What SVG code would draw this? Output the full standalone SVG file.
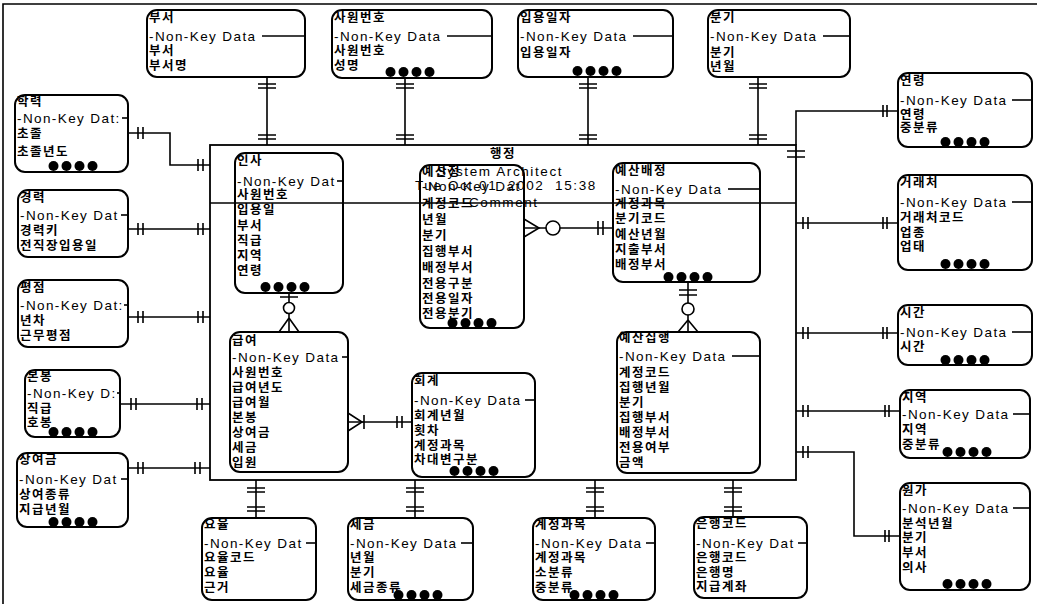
<svg xmlns="http://www.w3.org/2000/svg" width="1037" height="604" viewBox="0 0 1037 604">
<style>
.k{font-family:"Noto Sans CJK KR","Noto Sans",sans-serif;font-size:12.5px;font-weight:bold;letter-spacing:1.5px;fill:#000}
.n{font-family:"Liberation Sans",Arial,sans-serif;font-size:13.5px;letter-spacing:1.4px;fill:#000}
.a{font-family:"Liberation Sans",Arial,sans-serif;font-size:13.5px;letter-spacing:1.6px;fill:#000}
.box{fill:#fff;stroke:#000;stroke-width:2}
.c{fill:none;stroke:#000;stroke-width:1.6}
.t{fill:none;stroke:#000;stroke-width:1.6}
.o{fill:#fff;stroke:#000;stroke-width:1.6}
</style>
<defs>
<g id="dots"><circle cx="-19.5" cy="0" r="5"/><circle cx="-6.5" cy="0" r="5"/><circle cx="6.5" cy="0" r="5"/><circle cx="19.5" cy="0" r="5"/></g>
</defs>
<rect width="1037" height="604" fill="#fff"/>
<path class="c" d="M3,604 V4 H1037"/>
<g id="area">
<rect x="210" y="145" width="586" height="335" fill="none" stroke="#000" stroke-width="1.8"/>
<text class="k" x="503" y="158" text-anchor="middle">행정</text>
</g>
<g id="connectors">
<path class="c" d="M267,77 V145 M405,78 V145 M588,77 V145 M758,77 V145"/>
<path class="t" d="M258,84 H276 M258,88 H276 M258,135 H276 M258,139 H276"/>
<path class="t" d="M396,84 H414 M396,88 H414 M396,135 H414 M396,139 H414"/>
<path class="t" d="M579,84 H597 M579,88 H597 M579,135 H597 M579,139 H597"/>
<path class="t" d="M749,84 H767 M749,88 H767 M749,135 H767 M749,139 H767"/>
<path class="c" d="M128,133 H170 V165 H210"/>
<path class="t" d="M138,127 V139 M143,127 V139 M198,159 V171 M203,159 V171"/>
<path class="c" d="M128,229 H210"/>
<path class="t" d="M138,223 V235 M143,223 V235 M198,223 V235 M203,223 V235"/>
<path class="c" d="M128,317 H210"/>
<path class="t" d="M138,311 V323 M143,311 V323 M198,311 V323 M203,311 V323"/>
<path class="c" d="M120,404 H210"/>
<path class="t" d="M131,398 V410 M136,398 V410 M197,398 V410 M202,398 V410"/>
<path class="c" d="M128,468 H210"/>
<path class="t" d="M138,462 V474 M143,462 V474 M195,462 V474 M200,462 V474"/>
<path class="c" d="M796,145 V111 H898"/>
<path class="t" d="M883,105 V117 M887,105 V117 M787,151 H805 M787,157 H805"/>
<path class="c" d="M796,223 H898"/>
<path class="t" d="M803,217 V229 M808,217 V229 M883,217 V229 M887,217 V229"/>
<path class="c" d="M796,333 H898"/>
<path class="t" d="M803,327 V339 M808,327 V339 M883,327 V339 M887,327 V339"/>
<path class="c" d="M796,411 H900"/>
<path class="t" d="M803,405 V417 M808,405 V417 M885,405 V417 M889,405 V417"/>
<path class="c" d="M796,452 H854 V536 H900"/>
<path class="t" d="M803,446 V458 M808,446 V458 M885,530 V542 M889,530 V542"/>
<path class="c" d="M256,480 V518 M415,480 V518 M595,480 V518 M733,480 V517"/>
<path class="t" d="M247,488 H265 M247,492 H265 M247,507 H265 M247,511 H265"/>
<path class="t" d="M406,488 H424 M406,492 H424 M406,507 H424 M406,511 H424"/>
<path class="t" d="M586,488 H604 M586,492 H604 M586,507 H604 M586,511 H604"/>
<path class="t" d="M724,488 H742 M724,492 H742 M724,507 H742 M724,511 H742"/>
<path class="c" d="M289,293 V332"/>
<path class="t" d="M280,297 H298 M289,318 L279,332 M289,318 L299,332"/>
<circle class="o" cx="289" cy="308" r="5.5"/>
<path class="c" d="M524,228 H613"/>
<path class="t" d="M524,219 L539,228 L524,237 M598,221 V235 M603,221 V235"/>
<circle class="o" cx="553" cy="228" r="7"/>
<path class="c" d="M688,282 V332"/>
<path class="t" d="M679,290 H697 M679,295 H697 M688,320 L678,332 M688,320 L698,332"/>
<circle class="o" cx="688" cy="309" r="6"/>
<path class="c" d="M348,422 H412"/>
<path class="t" d="M348,413 L362,422 L348,431 M364,415 V429 M397,416 V428 M402,416 V428"/>
</g>
<g id="n-buseo">
<rect class="box" x="147" y="10" width="158" height="67" rx="10"/>
<text class="k" x="149" y="22">부서</text>
<text class="n" x="149" y="41">-Non-Key Data</text>
<line class="c" x1="262" y1="36" x2="305" y2="36"/>
<text class="k" x="149" y="55">부서</text>
<text class="k" x="149" y="70">부서명</text>
</g>
<g id="n-sawon">
<rect class="box" x="332" y="10" width="160" height="68" rx="10"/>
<text class="k" x="334" y="22">사원번호</text>
<text class="n" x="334" y="41">-Non-Key Data</text>
<line class="c" x1="447" y1="36" x2="492" y2="36"/>
<text class="k" x="334" y="55">사원번호</text>
<text class="k" x="334" y="70">성명</text>
<use href="#dots" x="410" y="72"/>
</g>
<g id="n-ipyong">
<rect class="box" x="518" y="10" width="155" height="67" rx="10"/>
<text class="k" x="520" y="22">입용일자</text>
<text class="n" x="520" y="41">-Non-Key Data</text>
<line class="c" x1="633" y1="36" x2="673" y2="36"/>
<text class="k" x="520" y="57">입용일자</text>
<use href="#dots" x="597" y="71"/>
</g>
<g id="n-bungi">
<rect class="box" x="708" y="10" width="142" height="67" rx="10"/>
<text class="k" x="710" y="22">분기</text>
<text class="n" x="710" y="41">-Non-Key Data</text>
<line class="c" x1="823" y1="36" x2="850" y2="36"/>
<text class="k" x="710" y="57">분기</text>
<text class="k" x="710" y="71">년월</text>
</g>
<g id="n-yeonryeong">
<rect class="box" x="898" y="73" width="134" height="74" rx="10"/>
<text class="k" x="900" y="85">연령</text>
<text class="n" x="900" y="105">-Non-Key Data</text>
<line class="c" x1="1012" y1="100" x2="1032" y2="100"/>
<text class="k" x="900" y="119">연령</text>
<text class="k" x="900" y="132">중분류</text>
<use href="#dots" x="965" y="142"/>
</g>
<g id="n-georae">
<rect class="box" x="898" y="175" width="134" height="95" rx="10"/>
<text class="k" x="900" y="187">거래처</text>
<text class="n" x="900" y="207">-Non-Key Data</text>
<line class="c" x1="1012" y1="202" x2="1032" y2="202"/>
<text class="k" x="900" y="222">거래처코드</text>
<text class="k" x="900" y="237">업종</text>
<text class="k" x="900" y="251">업태</text>
<use href="#dots" x="965" y="264"/>
</g>
<g id="n-sigan">
<rect class="box" x="898" y="305" width="134" height="60" rx="10"/>
<text class="k" x="900" y="317">시간</text>
<text class="n" x="900" y="337">-Non-Key Data</text>
<line class="c" x1="1012" y1="332" x2="1032" y2="332"/>
<text class="k" x="900" y="351">시간</text>
<use href="#dots" x="965" y="360"/>
</g>
<g id="n-jiyeok">
<rect class="box" x="900" y="390" width="130" height="68" rx="10"/>
<text class="k" x="902" y="402">지역</text>
<text class="n" x="902" y="419">-Non-Key Data</text>
<line class="c" x1="1013" y1="414" x2="1030" y2="414"/>
<text class="k" x="902" y="434">지역</text>
<text class="k" x="902" y="449">중분류</text>
<use href="#dots" x="967" y="452"/>
</g>
<g id="n-wonga">
<rect class="box" x="900" y="483" width="130" height="107" rx="10"/>
<text class="k" x="902" y="495">원가</text>
<text class="n" x="902" y="513">-Non-Key Data</text>
<line class="c" x1="1013" y1="508" x2="1030" y2="508"/>
<text class="k" x="902" y="528">분석년월</text>
<text class="k" x="902" y="542">분기</text>
<text class="k" x="902" y="557">부서</text>
<text class="k" x="902" y="572">의사</text>
<use href="#dots" x="967" y="584"/>
</g>
<g id="n-hakryeok">
<rect class="box" x="15" y="95" width="113" height="77" rx="10"/>
<text class="k" x="17" y="106">학력</text>
<text class="n" x="17" y="123">-Non-Key Dat:</text>
<line class="c" x1="122" y1="118" x2="128" y2="118"/>
<text class="k" x="17" y="138">초졸</text>
<text class="k" x="17" y="156">초졸년도</text>
<use href="#dots" x="73" y="166"/>
</g>
<g id="n-gyeongryeok">
<rect class="box" x="18" y="190" width="110" height="67" rx="10"/>
<text class="k" x="20" y="202">경력</text>
<text class="n" x="20" y="220">-Non-Key Dat</text>
<line class="c" x1="121" y1="215" x2="128" y2="215"/>
<text class="k" x="20" y="235">경력키</text>
<text class="k" x="20" y="250">전직장입용일</text>
</g>
<g id="n-pyeongjeom">
<rect class="box" x="18" y="280" width="110" height="67" rx="10"/>
<text class="k" x="20" y="292">평점</text>
<text class="n" x="20" y="310">-Non-Key Dat:</text>
<line class="c" x1="124" y1="305" x2="128" y2="305"/>
<text class="k" x="20" y="325">년차</text>
<text class="k" x="20" y="340">근무평점</text>
</g>
<g id="n-bonbong">
<rect class="box" x="25" y="370" width="95" height="67" rx="10"/>
<text class="k" x="27" y="381">본봉</text>
<text class="n" x="27" y="398">-Non-Key D:</text>
<line class="c" x1="117" y1="393" x2="120" y2="393"/>
<text class="k" x="27" y="413">직급</text>
<text class="k" x="27" y="427">호봉</text>
<use href="#dots" x="73" y="432"/>
</g>
<g id="n-sangyeo">
<rect class="box" x="17" y="453" width="111" height="74" rx="10"/>
<text class="k" x="19" y="464">상여금</text>
<text class="n" x="19" y="484">-Non-Key Dat</text>
<line class="c" x1="121" y1="479" x2="128" y2="479"/>
<text class="k" x="19" y="499">상여종류</text>
<text class="k" x="19" y="514">지급년월</text>
<use href="#dots" x="73" y="522"/>
</g>
<g id="n-insa">
<rect class="box" x="235" y="153" width="108" height="140" rx="10"/>
<text class="k" x="237" y="165">인사</text>
<text class="n" x="237" y="186">-Non-Key Dat</text>
<line class="c" x1="337" y1="181" x2="343" y2="181"/>
<text class="k" x="237" y="199">사원번호</text>
<text class="k" x="237" y="214">입용일</text>
<text class="k" x="237" y="230">부서</text>
<text class="k" x="237" y="245">직급</text>
<text class="k" x="237" y="260">지역</text>
<text class="k" x="237" y="275">연령</text>
<use href="#dots" x="285" y="287"/>
</g>
<g id="n-yesanjeong">
<rect class="box" x="420" y="165" width="104" height="163" rx="10"/>
<text class="k" x="422" y="176">예산정</text>
<text class="n" x="422" y="191">-Non-Key Dat</text>
<text class="k" x="422" y="208">계정코드</text>
<text class="k" x="422" y="224">년월</text>
<text class="k" x="422" y="240">분기</text>
<text class="k" x="422" y="256">집행부서</text>
<text class="k" x="422" y="272">배정부서</text>
<text class="k" x="422" y="288">전용구분</text>
<text class="k" x="422" y="303">전용일자</text>
<text class="k" x="422" y="318">전용분기</text>
<use href="#dots" x="472" y="323"/>
</g>
<g id="n-yesanbaejeong">
<rect class="box" x="613" y="163" width="147" height="119" rx="10"/>
<text class="k" x="615" y="175">예산배정</text>
<text class="n" x="615" y="194">-Non-Key Data</text>
<line class="c" x1="728" y1="189" x2="760" y2="189"/>
<text class="k" x="615" y="208">계정과목</text>
<text class="k" x="615" y="223">분기코드</text>
<text class="k" x="615" y="239">예산년월</text>
<text class="k" x="615" y="254">지출부서</text>
<text class="k" x="615" y="269">배정부서</text>
<use href="#dots" x="688" y="277"/>
</g>
<g id="n-geupyeo">
<rect class="box" x="230" y="332" width="118" height="140" rx="10"/>
<text class="k" x="232" y="345">급여</text>
<text class="n" x="232" y="362">-Non-Key Data</text>
<line class="c" x1="342" y1="357" x2="348" y2="357"/>
<text class="k" x="232" y="377">사원번호</text>
<text class="k" x="232" y="392">급여년도</text>
<text class="k" x="232" y="407">급여월</text>
<text class="k" x="232" y="422">본봉</text>
<text class="k" x="232" y="437">상여금</text>
<text class="k" x="232" y="452">세금</text>
<text class="k" x="232" y="467">입원</text>
</g>
<g id="n-hoegye">
<rect class="box" x="412" y="373" width="123" height="104" rx="10"/>
<text class="k" x="414" y="385">회계</text>
<text class="n" x="414" y="405">-Non-Key Data</text>
<line class="c" x1="525" y1="400" x2="535" y2="400"/>
<text class="k" x="414" y="420">회계년월</text>
<text class="k" x="414" y="435">횟차</text>
<text class="k" x="414" y="450">계정과목</text>
<text class="k" x="414" y="464">차대변구분</text>
<use href="#dots" x="474" y="471"/>
</g>
<g id="n-yesanjiphaeng">
<rect class="box" x="617" y="332" width="143" height="141" rx="10"/>
<text class="k" x="619" y="342">예산집행</text>
<text class="n" x="619" y="361">-Non-Key Data</text>
<line class="c" x1="732" y1="356" x2="760" y2="356"/>
<text class="k" x="619" y="377">계정코드</text>
<text class="k" x="619" y="392">집행년월</text>
<text class="k" x="619" y="407">분기</text>
<text class="k" x="619" y="422">집행부서</text>
<text class="k" x="619" y="437">배정부서</text>
<text class="k" x="619" y="452">전용여부</text>
<text class="k" x="619" y="467">금액</text>
</g>
<g id="n-yoyul">
<rect class="box" x="202" y="518" width="114" height="82" rx="10"/>
<text class="k" x="204" y="529">요율</text>
<text class="n" x="204" y="548">-Non-Key Dat</text>
<line class="c" x1="306" y1="543" x2="316" y2="543"/>
<text class="k" x="204" y="562">요율코드</text>
<text class="k" x="204" y="577">요율</text>
<text class="k" x="204" y="592">근거</text>
</g>
<g id="n-segeum">
<rect class="box" x="348" y="518" width="125" height="82" rx="10"/>
<text class="k" x="350" y="529">세금</text>
<text class="n" x="350" y="548">-Non-Key Data</text>
<line class="c" x1="461" y1="543" x2="473" y2="543"/>
<text class="k" x="350" y="562">년월</text>
<text class="k" x="350" y="577">분기</text>
<text class="k" x="350" y="592">세금종류</text>
<use href="#dots" x="418" y="595"/>
</g>
<g id="n-gyejeong">
<rect class="box" x="533" y="518" width="122" height="82" rx="10"/>
<text class="k" x="535" y="529">계정과목</text>
<text class="n" x="535" y="548">-Non-Key Data</text>
<line class="c" x1="646" y1="543" x2="655" y2="543"/>
<text class="k" x="535" y="562">계정과목</text>
<text class="k" x="535" y="577">소분류</text>
<text class="k" x="535" y="592">중분류</text>
<use href="#dots" x="594" y="595"/>
</g>
<g id="n-eunhaeng">
<rect class="box" x="694" y="517" width="113" height="81" rx="10"/>
<text class="k" x="696" y="528">은행코드</text>
<text class="n" x="696" y="548">-Non-Key Dat</text>
<line class="c" x1="798" y1="543" x2="807" y2="543"/>
<text class="k" x="696" y="562">은행코드</text>
<text class="k" x="696" y="577">은행명</text>
<text class="k" x="696" y="591">지급계좌</text>
</g>
<g id="annotation">
<line class="c" x1="210" y1="203" x2="796" y2="203"/>
<text class="a" x="437" y="176">System Architect</text>
<text class="a" x="415" y="190" xml:space="preserve">Tue Oct 01  2002  15:38</text>
<text class="a" x="469" y="207">Comment</text>
</g>
</svg>
